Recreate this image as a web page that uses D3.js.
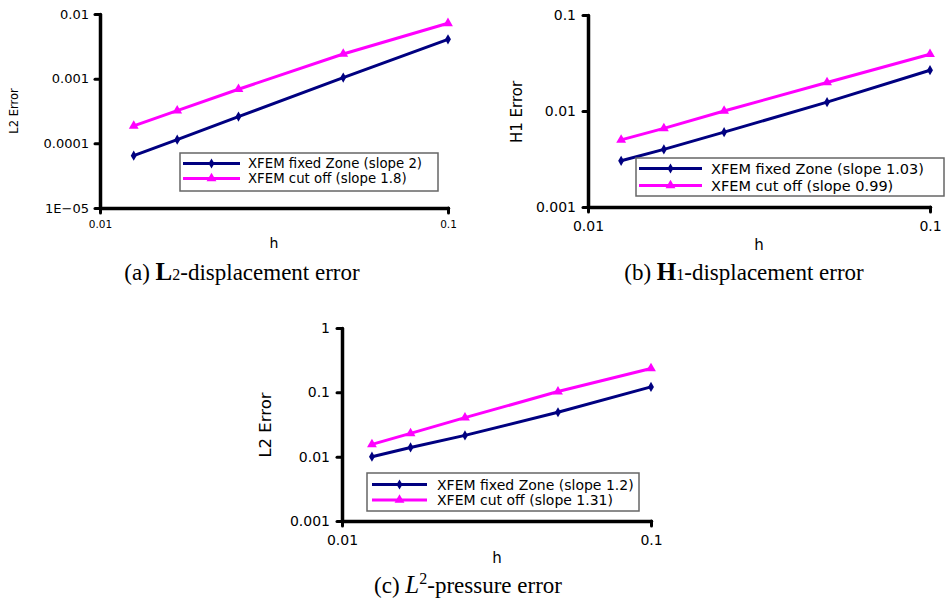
<!DOCTYPE html>
<html><head><meta charset="utf-8">
<script src="https://cdn.jsdelivr.net/npm/d3@7"></script>
<style>body{margin:0;background:#fff} svg{display:block}</style>
</head><body><svg id="c" width="949" height="606"></svg>
<script>
// ---- data ----
const h = [1/80, 1/60, 1/40, 1/20, 1/10];
const xTicks = [0.01, 0.1];
const xTickLabels = ["0.01", "0.1"];
const seriesNames = ["XFEM fixed Zone", "XFEM cut off"];

const l2DispFixed = [0.0000645, 0.000114, 0.000259, 0.00104, 0.00406];
const l2DispCut   = [0.000186, 0.00032, 0.000686, 0.00241, 0.00718];
const l2DispSlopes = ["2", "1.8"];
const l2DispTicks = [1e-5, 1e-4, 1e-3, 1e-2];
const l2DispTickLabels = ["1E\u221205", "0.0001", "0.001", "0.01"];

const h1DispFixed = [0.00303, 0.00398, 0.00602, 0.01236, 0.0266];
const h1DispCut   = [0.005, 0.0066, 0.01, 0.0198, 0.039];
const h1DispSlopes = ["1.03", "0.99"];
const h1DispTicks = [1e-3, 1e-2, 1e-1];
const h1DispTickLabels = ["0.001", "0.01", "0.1"];

const l2PresFixed = [0.01, 0.0139, 0.0214, 0.049, 0.1215];
const l2PresCut   = [0.0155, 0.023, 0.0404, 0.1028, 0.235];
const l2PresSlopes = ["1.2", "1.31"];
const l2PresTicks = [1e-3, 1e-2, 1e-1, 1];
const l2PresTickLabels = ["0.001", "0.01", "0.1", "1"];

const colors = ["#000080", "#ff00ff"];
const svg = d3.select("#c");

function panel(cfg) {
  const x = d3.scaleLog().domain([0.01, 0.1]).range([cfg.x0, cfg.x1]);
  const y = d3.scaleLog().domain([cfg.yTicks[0], cfg.yTicks[cfg.yTicks.length-1]]).range([cfg.y0, cfg.y1]);
  const g = svg.append("g");

  const ya = g.append("g").attr("transform", `translate(${cfg.x0},0)`)
    .call(d3.axisLeft(y).tickValues(cfg.yTicks).tickFormat((d,i)=>cfg.yTickLabels[i]).tickSizeInner(5).tickSizeOuter(0).tickPadding(cfg.yPad));
  const xa = g.append("g").attr("transform", `translate(0,${cfg.y0})`)
    .call(d3.axisBottom(x).tickValues(xTicks).tickFormat((d,i)=>xTickLabels[i]).tickSizeInner(5).tickSizeOuter(0).tickPadding(cfg.xPad));
  [ya, xa].forEach(a => {
    a.select(".domain").attr("stroke", "#000").attr("stroke-width", 3.5).attr("stroke-linecap", "round");
    a.selectAll(".tick line").attr("stroke", "#000").attr("stroke-width", 3).attr("stroke-linecap", "round");
  });
  ya.selectAll("text").attr("font-family", "DejaVu Sans").attr("font-size", cfg.yFs).attr("fill", "#000");
  xa.selectAll("text").attr("font-family", "DejaVu Sans").attr("font-size", cfg.xFs).attr("fill", "#000");

  g.append("text").attr("transform", `translate(${cfg.ylx},${cfg.yly}) rotate(-90)`)
    .attr("text-anchor", "middle").attr("dominant-baseline", "central")
    .attr("font-family", "DejaVu Sans").attr("font-size", cfg.ylFs).text(cfg.yLabel);
  g.append("text").attr("x", cfg.hx).attr("y", cfg.hy)
    .attr("text-anchor", "middle").attr("dominant-baseline", "central")
    .attr("font-family", "DejaVu Sans").attr("font-size", cfg.hFs).text("h");

  const line = d3.line().x((d,i)=>x(h[i])).y(d=>y(d));
  const diamond = d3.symbol().type(d3.symbolDiamond).size(30);
  const tri = d3.symbol().type(d3.symbolTriangle).size(42);
  const sym = [diamond, tri];

  [cfg.fixed, cfg.cut].forEach((vals, k) => {
    g.append("path").datum(vals).attr("d", line).attr("fill", "none")
      .attr("stroke", colors[k]).attr("stroke-width", 3);
    g.selectAll(null).data(vals).enter().append("path")
      .attr("d", sym[k]).attr("fill", colors[k])
      .attr("transform", (d,i)=>`translate(${x(h[i])},${y(d)})`);
  });

  const L = cfg.leg;
  g.append("rect").attr("x", L.x).attr("y", L.y).attr("width", L.w).attr("height", L.h)
    .attr("fill", "#fff").attr("stroke", "#666").attr("stroke-width", 1.5);
  seriesNames.forEach((name, k) => {
    const ry = L.y + L.r0 + k * L.dr;
    g.append("line").attr("x1", L.lx0).attr("x2", L.lx1).attr("y1", ry).attr("y2", ry)
      .attr("stroke", colors[k]).attr("stroke-width", 3);
    g.append("path").attr("d", sym[k]).attr("fill", colors[k])
      .attr("transform", `translate(${(L.lx0+L.lx1)/2},${ry})`);
    g.append("text").attr("x", L.tx).attr("y", ry).attr("dominant-baseline", "central")
      .attr("font-family", "DejaVu Sans").attr("font-size", L.fs)
      .text(`${name} (slope ${cfg.slopes[k]})`);
  });
}

panel({x0:100, x1:448, y0:208, y1:14, yTicks:l2DispTicks, yTickLabels:l2DispTickLabels,
  fixed:l2DispFixed, cut:l2DispCut, slopes:l2DispSlopes, yPad:6, xPad:8, yFs:13, xFs:10.5,
  yLabel:"L2 Error", ylx:14, yly:111, ylFs:11.5, hx:274, hy:243, hFs:14,
  leg:{x:180, y:153, w:258, h:38, r0:10.5, dr:15, lx0:183, lx1:240, tx:248, fs:13.3}});

panel({x0:588, x1:930, y0:207, y1:15, yTicks:h1DispTicks, yTickLabels:h1DispTickLabels,
  fixed:h1DispFixed, cut:h1DispCut, slopes:h1DispSlopes, yPad:7, xPad:9, yFs:14, xFs:14,
  yLabel:"H1 Error", ylx:517, yly:112, ylFs:15, hx:759, hy:245, hFs:15,
  leg:{x:636, y:158, w:308, h:38, r0:10.5, dr:17, lx0:639, lx1:702, tx:711, fs:14.5}});

panel({x0:342, x1:651, y0:521, y1:328, yTicks:l2PresTicks, yTickLabels:l2PresTickLabels,
  fixed:l2PresFixed, cut:l2PresCut, slopes:l2PresSlopes, yPad:7, xPad:9, yFs:14, xFs:14,
  yLabel:"L2 Error", ylx:265, yly:425, ylFs:16.5, hx:497, hy:558, hFs:15,
  leg:{x:367, y:473, w:272, h:38, r0:11.5, dr:15.5, lx0:372, lx1:427, tx:437, fs:14}});

function caption(x, y, parts) {
  const t = svg.append("text").attr("x", x).attr("y", y).attr("text-anchor", "middle")
    .attr("font-family", "Liberation Serif").attr("font-size", 23);
  parts.forEach(p => {
    const s = t.append("tspan").text(p.t);
    if (p.b) s.attr("font-weight", "bold");
    if (p.i) s.attr("font-style", "italic");
    if (p.fs) s.attr("font-size", p.fs);
    if (p.dy) s.attr("dy", p.dy);
  });
}
caption(242, 280, [{t:"(a)  "}, {t:"L", b:true, fs:25}, {t:"2", fs:16}, {t:"-displacement error"}]);
caption(744, 280, [{t:"(b)  "}, {t:"H", b:true, fs:25}, {t:"1", fs:16}, {t:"-displacement error"}]);
caption(468, 593, [{t:"(c)  "}, {t:"L", i:true, fs:25}, {t:"2", fs:16, dy:-9}, {t:"-pressure error", dy:9}]);
</script></body></html>
